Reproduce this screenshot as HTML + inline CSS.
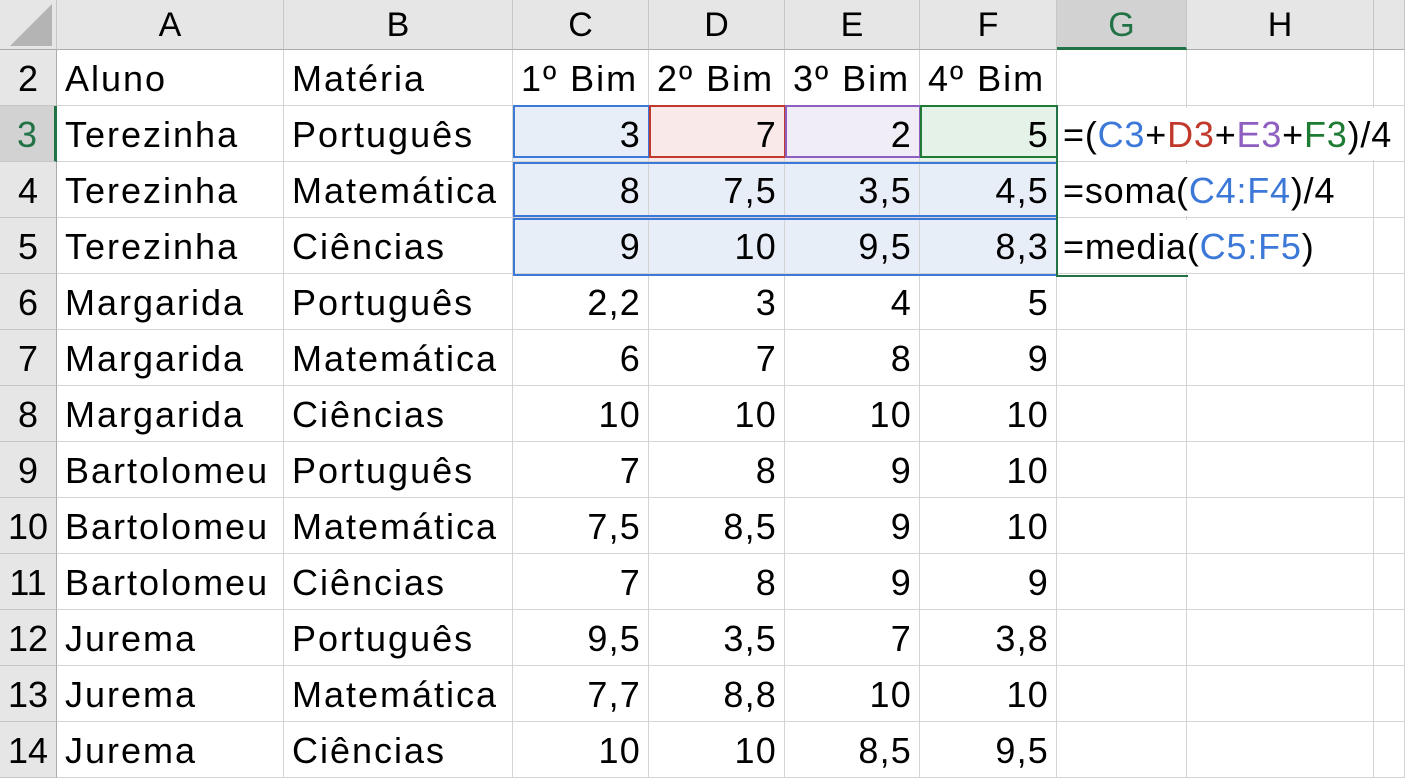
<!DOCTYPE html>
<html><head><meta charset="utf-8">
<style>
body{margin:0;width:1405px;height:773px;overflow:hidden;background:#fff;font-family:"Liberation Sans",sans-serif;}
#sheet{position:relative;width:1405px;height:773px;}
.c{position:absolute;box-sizing:border-box;font-size:36px;letter-spacing:2px;line-height:58px;white-space:nowrap;color:#000;}
.hdr{background:#e6e6e6;text-align:center;border-right:1px solid #c6c6c6;border-bottom:1px solid #ababab;line-height:50px;font-size:34px;letter-spacing:0;}
.rh{background:#e6e6e6;border-right:1px solid #ababab;border-bottom:1px solid #c6c6c6;text-align:center;letter-spacing:0;}
.cell{border-right:1px solid #d4d4d4;border-bottom:1px solid #d4d4d4;padding:0 8px;overflow:visible;}
.num{text-align:right;padding-right:7px;letter-spacing:1.2px;}
</style></head><body>
<div id="sheet"></div>
<script>
const cols=['A','B','C','D','E','F','G','H',''];
const colX=[57,284,513,649,785,920,1057,1187,1374,1405];
const rowNums=[2,3,4,5,6,7,8,9,10,11,12,13,14];
const alunos=['Aluno','Terezinha','Terezinha','Terezinha','Margarida','Margarida','Margarida','Bartolomeu','Bartolomeu','Bartolomeu','Jurema','Jurema','Jurema'];
const materias=['Matéria','Português','Matemática','Ciências','Português','Matemática','Ciências','Português','Matemática','Ciências','Português','Matemática','Ciências'];
const bim1=['1º Bim','3','8','9','2,2','6','10','7','7,5','7','9,5','7,7','10'];
const bim2=['2º Bim','7','7,5','10','3','7','10','8','8,5','8','3,5','8,8','10'];
const bim3=['3º Bim','2','3,5','9,5','4','8','10','9','9','9','7','10','8,5'];
const bim4=['4º Bim','5','4,5','8,3','5','9','10','10','10','9','3,8','10','9,5'];
const S=document.getElementById('sheet');
function mk(cls,x,y,w,h,html){const d=document.createElement('div');d.className='c '+cls;d.style.left=x+'px';d.style.top=y+'px';d.style.width=w+'px';d.style.height=h+'px';d.innerHTML=html;S.appendChild(d);return d;}
const corner=mk('hdr',0,0,57,50,'<svg width="50" height="46" style="position:absolute;left:4px;top:2px"><polygon points="48,2 48,44 6,44" fill="#b4b4b4"/></svg>');


for(let i=0;i<cols.length;i++){
  const h=mk('hdr',colX[i],0,colX[i+1]-colX[i],50,cols[i]);
  if(cols[i]==='G'){h.style.background='#d2d2d2';h.style.color='#217346';h.style.borderBottom='3px solid #217346';}
  
  
}
const colsData=[alunos,materias,bim1,bim2,bim3,bim4];
const fills={'3':['#e8eef8','#f9e9e9','#f0edf7','#e5f2e7'],'4':['#e8eef8','#e8eef8','#e8eef8','#e8eef8'],'5':['#e8eef8','#e8eef8','#e8eef8','#e8eef8']};
for(let r=0;r<rowNums.length;r++){
  const y=50+r*56;
  const rh=mk('rh',0,y,57,56,String(rowNums[r]));
  if(rowNums[r]===3){rh.style.background='#d2d2d2';rh.style.color='#217346';rh.style.borderRight='3px solid #217346';}
  
  
  for(let c=0;c<8;c++){
    let txt='';
    if(c<6) txt=colsData[c][r];
    const isNum=c>=2&&c<6&&r>0;
    const el=mk('cell'+(isNum?' num':''),colX[c],y,colX[c+1]-colX[c],56,txt);
    const f=fills[String(rowNums[r])];
    if(f&&c>=2&&c<6) el.style.background=f[c-2];
    
    
  }
  const ex=mk('cell',1374,y,31,56,'');
  
  
}
function box(x,y,w,h,col,name){const d=document.createElement('div');d.style.cssText='position:absolute;box-sizing:border-box;left:'+x+'px;top:'+y+'px;width:'+w+'px;height:'+h+'px;border:2px solid '+col+';';S.appendChild(d);
 
 return d;}
box(513,105,137,53,'#3c78d8','ref-c3');
box(649,105,137,53,'#c0392b','ref-d3');
box(785,105,136,53,'#8e5fc1','ref-e3');
box(920,105,138,53,'#1e7b34','ref-f3');
box(513,162,545,55,'#3c78d8','ref-c4-f4');
box(513,218,545,58,'#3c78d8','ref-c5-f5');
const ag=box(1056,105,132,172,'#217346','active-range-g3-g5');
ag.style.borderTop='none';ag.style.borderRight='none';
const formulas=['=(<span style="color:#3c78d8">C3</span>+<span style="color:#c0392b">D3</span>+<span style="color:#8e5fc1">E3</span>+<span style="color:#1e7b34">F3</span>)/4',
'=soma(<span style="color:#3c78d8">C4:F4</span>)/4',
'=media(<span style="color:#3c78d8">C5:F5</span>)'];
const fW=[340,290,260];
for(let i=0;i<3;i++){
  const f=mk('',1060,108+i*56,fW[i],52,formulas[i]);
  f.style.background='#fff';f.style.lineHeight='54px';f.style.paddingLeft='3px';f.style.letterSpacing='0.8px';
  
  
}
</script>
</body></html>
